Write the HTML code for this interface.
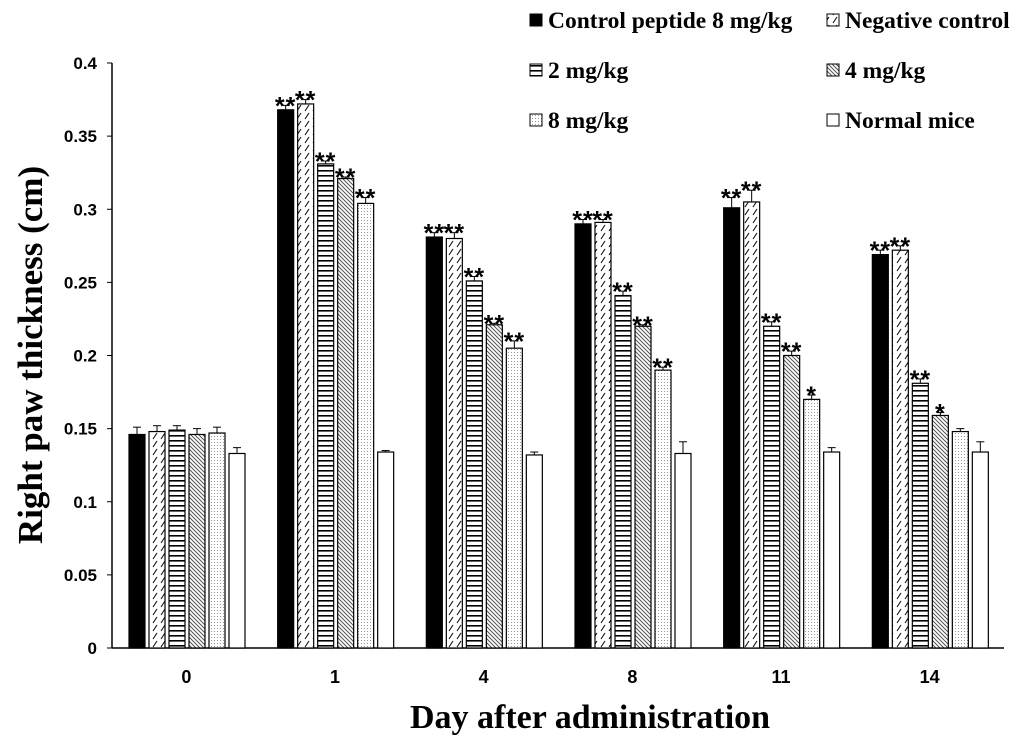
<!DOCTYPE html>
<html><head><meta charset="utf-8"><style>
body{margin:0;background:#fff}
svg text{font-family:"Liberation Sans",sans-serif;font-weight:bold}
.serif{font-family:"Liberation Serif",serif;font-weight:bold}
</style></head><body>
<svg id="chart" width="1024" height="737" xmlns="http://www.w3.org/2000/svg">
<defs>
<pattern id="p1" width="8" height="8" patternUnits="userSpaceOnUse"><rect width="8" height="8" fill="#fff"/><path d="M1,7 L5,1" stroke="#000" stroke-width="1"/></pattern>
<pattern id="p2" width="4" height="5" patternUnits="userSpaceOnUse"><rect width="4" height="5" fill="#fff"/><rect y="0" width="4" height="1.6" fill="#000"/></pattern>
<pattern id="p3" width="4" height="4" patternUnits="userSpaceOnUse"><rect width="4" height="4" fill="#fff"/><path d="M0,0 L4,4 M-1,3 L1,5 M3,-1 L5,1" stroke="#555" stroke-width="1"/></pattern>
<pattern id="p4" width="3" height="3" patternUnits="userSpaceOnUse"><rect width="3" height="3" fill="#fff"/><rect x="1" y="1" width="1" height="1" fill="#999"/></pattern>
</defs>
<g id="plot"></g>
</svg>
<script>
const categories=["0","1","4","8","11","14"];
const seriesNames=["Control peptide 8 mg/kg","Negative control","2 mg/kg","4 mg/kg","8 mg/kg","Normal mice"];
const s0=[0.146,0.368,0.281,0.290,0.301,0.269];
const s1=[0.148,0.372,0.280,0.291,0.305,0.272];
const s2=[0.149,0.331,0.251,0.241,0.220,0.181];
const s3=[0.146,0.321,0.221,0.220,0.200,0.159];
const s4=[0.147,0.304,0.205,0.190,0.170,0.148];
const s5=[0.133,0.134,0.132,0.133,0.134,0.134];
const e0=[0.005,0.003,0.003,0.003,0.007,0.003];
const e1=[0.004,0.003,0.004,0.002,0.008,0.003];
const e2=[0.003,0.002,0.003,0.003,0.003,0.003];
const e3=[0.004,0.001,0.001,0.001,0.003,0.002];
const e4=[0.004,0.004,0.005,0.002,0.003,0.002];
const e5=[0.004,0.001,0.002,0.008,0.003,0.007];
const stars=[["","**","**","**","**","**"],["","**","**","**","**","**"],["","**","**","**","**","**"],["","**","**","**","**","*"],["","**","**","**","*",""],["","","","","",""]];
const yTicks=[0,0.05,0.1,0.15,0.2,0.25,0.3,0.35,0.4];
const series=[s0,s1,s2,s3,s4,s5], errs=[e0,e1,e2,e3,e4,e5];
const fills=["#000","url(#p1)","url(#p2)","url(#p3)","url(#p4)","#fff"];
const X0=112,X1=1004,Y0=648,Y1=63;
const y=v=>Y0-(v/0.4)*(Y0-Y1);
const gw=(X1-X0)/categories.length;
const x=(g,i)=>X0+g*gw+17+i*20;
const NS="http://www.w3.org/2000/svg";
const g=document.getElementById('plot');
function mk(t,a,txt){const e=document.createElementNS(NS,t);for(const k in a)e.setAttribute(k,a[k]);if(txt!=null)e.textContent=txt;g.appendChild(e);return e;}
let ax=mk('line',{x1:X0,y1:Y1,x2:X0,y2:Y0,stroke:'#000','stroke-width':1.5});


ax=mk('line',{x1:X0,y1:Y0,x2:X1,y2:Y0,stroke:'#000','stroke-width':1.5});


yTicks.forEach(t=>{
 mk('line',{x1:X0-5,y1:y(t),x2:X0,y2:y(t),stroke:'#000'});
 const l=mk('text',{x:X0-15,y:y(t)+6,'text-anchor':'end','font-size':17},String(t));
 
 
});
categories.forEach((c,gi)=>{
 const l=mk('text',{x:X0+gi*gw+gw/2,y:683,'text-anchor':'middle','font-size':18},c);
 
 
 series.forEach((s,si)=>{
  const bx=x(gi,si),v=s[gi],ev=errs[si][gi];
  const r=mk('rect',{x:bx,y:y(v),width:16,height:Y0-y(v),fill:fills[si],stroke:'#000','stroke-width':1.2});
  
  
  mk('line',{x1:bx+8,y1:y(v),x2:bx+8,y2:y(v+ev),stroke:'#000'});
  mk('line',{x1:bx+4,y1:y(v+ev),x2:bx+12,y2:y(v+ev),stroke:'#000'});
  const st=stars[si][gi];
  if(st){const t=mk('text',{x:bx+8,y:y(v+ev)+9,'text-anchor':'middle','font-size':25,'font-weight':'normal','letter-spacing':'1'},st);
   
   }
 });
});
const lx=[530,827],ly=[20,70,120];
seriesNames.forEach((n,i)=>{
 const cx=lx[i%2],cy=ly[Math.floor(i/2)];
 const r=mk('rect',{x:cx,y:cy-6,width:12,height:12,fill:fills[i],stroke:'#000'});
 
 
 const t=mk('text',{x:cx+18,y:cy+8,'font-size':23.5,class:'serif'},n);
 
 
});
const yt=mk('text',{x:0,y:0,'font-size':35,class:'serif','text-anchor':'middle',transform:'translate(42,355) rotate(-90)'},'Right paw thickness (cm)');


const xt=mk('text',{x:590,y:728,'font-size':34,class:'serif','text-anchor':'middle'},'Day after administration');


</script>
</body></html>
